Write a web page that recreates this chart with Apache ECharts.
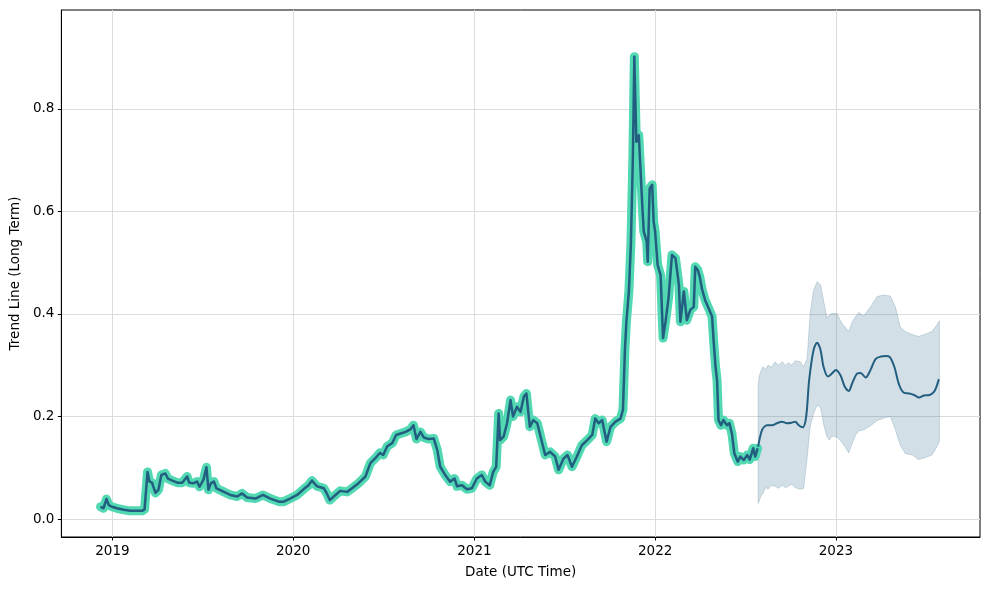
<!DOCTYPE html>
<html><head><meta charset="utf-8">
<script src="https://cdn.jsdelivr.net/npm/echarts@6/dist/echarts.min.js"></script>
<style>html,body{margin:0;padding:0;background:#fff}#c{width:989px;height:590px}</style>
</head><body><div id="c"></div>
<script>
const histDates = ['2018-12-08','2018-12-14','2018-12-20','2018-12-25','2018-12-31','2019-01-10','2019-01-24','2019-02-06','2019-03-02','2019-03-07','2019-03-13','2019-03-17','2019-03-22','2019-03-29','2019-04-04','2019-04-10','2019-04-18','2019-04-23','2019-05-02','2019-05-12','2019-05-22','2019-06-01','2019-06-05','2019-06-14','2019-06-21','2019-06-26','2019-07-04','2019-07-10','2019-07-14','2019-07-19','2019-07-25','2019-07-30','2019-08-10','2019-08-27','2019-09-10','2019-09-20','2019-09-30','2019-10-17','2019-11-01','2019-11-16','2019-12-03','2019-12-13','2019-12-26','2020-01-09','2020-01-22','2020-02-01','2020-02-08','2020-02-18','2020-03-03','2020-03-09','2020-03-15','2020-03-23','2020-04-05','2020-04-19','2020-04-29','2020-05-12','2020-05-26','2020-06-05','2020-06-18','2020-06-24','2020-07-01','2020-07-09','2020-07-19','2020-07-27','2020-08-05','2020-08-15','2020-08-25','2020-08-31','2020-09-06','2020-09-14','2020-09-21','2020-10-01','2020-10-11','2020-10-18','2020-10-24','2020-11-03','2020-11-13','2020-11-22','2020-11-27','2020-12-07','2020-12-17','2020-12-27','2021-01-06','2021-01-16','2021-01-23','2021-02-01','2021-02-08','2021-02-14','2021-02-19','2021-02-22','2021-03-01','2021-03-08','2021-03-15','2021-03-20','2021-03-28','2021-04-04','2021-04-11','2021-04-16','2021-04-23','2021-04-30','2021-05-08','2021-05-18','2021-05-24','2021-06-03','2021-06-13','2021-06-20','2021-06-30','2021-07-08','2021-07-17','2021-07-27','2021-08-06','2021-08-17','2021-08-27','2021-09-02','2021-09-09','2021-09-16','2021-09-25','2021-10-03','2021-10-13','2021-10-23','2021-10-28','2021-11-01','2021-11-04','2021-11-09','2021-11-13','2021-11-17','2021-11-20','2021-11-23','2021-11-24','2021-11-29','2021-12-02','2021-12-06','2021-12-09','2021-12-15','2021-12-17','2021-12-21','2021-12-26','2021-12-29','2022-01-01','2022-01-06','2022-01-12','2022-01-17','2022-01-22','2022-01-28','2022-02-04','2022-02-11','2022-02-18','2022-02-21','2022-02-28','2022-03-06','2022-03-13','2022-03-20','2022-03-23','2022-03-28','2022-04-01','2022-04-06','2022-04-12','2022-04-19','2022-04-26','2022-04-29','2022-05-03','2022-05-06','2022-05-09','2022-05-14','2022-05-19','2022-05-26','2022-05-31','2022-06-05','2022-06-10','2022-06-17','2022-06-22','2022-06-29','2022-07-06','2022-07-11','2022-07-18','2022-07-22','2022-07-27'];
const histValues = [0.024,0.021,0.039,0.027,0.024,0.021,0.018,0.016,0.016,0.019,0.092,0.073,0.071,0.051,0.057,0.086,0.089,0.079,0.075,0.071,0.071,0.083,0.071,0.070,0.073,0.063,0.077,0.101,0.057,0.070,0.073,0.060,0.055,0.047,0.044,0.050,0.042,0.040,0.047,0.040,0.034,0.034,0.040,0.047,0.058,0.066,0.075,0.064,0.060,0.050,0.037,0.044,0.055,0.053,0.060,0.070,0.083,0.109,0.122,0.129,0.125,0.142,0.148,0.164,0.167,0.170,0.175,0.183,0.156,0.170,0.159,0.156,0.157,0.135,0.102,0.086,0.073,0.079,0.064,0.066,0.058,0.060,0.079,0.086,0.073,0.066,0.092,0.102,0.206,0.154,0.161,0.187,0.232,0.200,0.219,0.209,0.239,0.245,0.180,0.193,0.187,0.148,0.125,0.131,0.122,0.096,0.118,0.125,0.102,0.122,0.144,0.154,0.164,0.196,0.187,0.193,0.151,0.180,0.190,0.196,0.213,0.330,0.385,0.444,0.535,0.704,0.902,0.899,0.736,0.749,0.691,0.613,0.561,0.541,0.502,0.645,0.652,0.580,0.561,0.496,0.476,0.353,0.385,0.431,0.515,0.509,0.457,0.385,0.444,0.388,0.408,0.414,0.492,0.486,0.473,0.447,0.427,0.411,0.395,0.349,0.297,0.271,0.193,0.183,0.193,0.183,0.187,0.167,0.128,0.112,0.122,0.115,0.125,0.116,0.138,0.122,0.138];

const fcDates = ['2022-07-28','2022-08-05','2022-08-15','2022-08-25','2022-09-04','2022-09-14','2022-09-24','2022-10-04','2022-10-11','2022-10-18','2022-10-26','2022-11-02','2022-11-08','2022-11-17','2022-11-24','2022-12-01','2022-12-07','2022-12-16','2022-12-24','2023-01-01','2023-01-10','2023-01-19','2023-01-27','2023-02-03','2023-02-13','2023-02-20','2023-03-02','2023-03-12','2023-03-22','2023-04-02','2023-04-12','2023-04-20','2023-04-29','2023-05-09','2023-05-19','2023-05-29','2023-06-08','2023-06-18','2023-06-28','2023-07-09','2023-07-18','2023-07-23','2023-07-28'];
const fcValues = [0.141,0.174,0.183,0.183,0.187,0.190,0.187,0.188,0.190,0.183,0.179,0.200,0.271,0.330,0.344,0.330,0.297,0.278,0.284,0.291,0.281,0.258,0.250,0.265,0.284,0.285,0.276,0.291,0.312,0.317,0.318,0.316,0.297,0.261,0.246,0.245,0.242,0.237,0.241,0.242,0.248,0.258,0.273];

const bandDates = ['2022-07-28','2022-07-30','2022-08-03','2022-08-07','2022-08-12','2022-08-17','2022-08-24','2022-08-31','2022-09-07','2022-09-15','2022-09-21','2022-09-27','2022-10-04','2022-10-11','2022-10-21','2022-10-28','2022-11-04','2022-11-10','2022-11-17','2022-11-24','2022-12-01','2022-12-07','2022-12-14','2022-12-19','2022-12-24','2023-01-03','2023-01-13','2023-01-20','2023-01-27','2023-02-03','2023-02-10','2023-02-16','2023-02-26','2023-03-12','2023-03-25','2023-04-08','2023-04-21','2023-05-01','2023-05-11','2023-05-21','2023-06-04','2023-06-17','2023-07-01','2023-07-14','2023-07-24','2023-07-29'];
const bandUpper = [0.258,0.278,0.290,0.297,0.292,0.300,0.296,0.307,0.300,0.307,0.299,0.305,0.300,0.309,0.307,0.297,0.314,0.401,0.447,0.463,0.457,0.427,0.392,0.398,0.401,0.401,0.382,0.374,0.366,0.385,0.395,0.403,0.396,0.414,0.434,0.437,0.435,0.414,0.375,0.366,0.360,0.356,0.361,0.366,0.379,0.387];
const bandLower = [0.031,0.035,0.046,0.050,0.062,0.058,0.066,0.064,0.060,0.066,0.061,0.064,0.068,0.061,0.058,0.060,0.120,0.180,0.206,0.222,0.218,0.185,0.160,0.154,0.162,0.160,0.150,0.140,0.129,0.148,0.164,0.172,0.174,0.182,0.192,0.197,0.200,0.174,0.144,0.128,0.125,0.116,0.120,0.125,0.141,0.151];

const yTicks = [0, 0.2, 0.4, 0.6, 0.8];
const xTickYears = [2019, 2020, 2021, 2022, 2023];

const FONT = 'DejaVu Sans';
const DARK = '#215e80';
const pair = (d, v) => d.map((x, i) => [Date.parse(x), v[i]]);
const bandData = bandDates.map((d, i) => [Date.parse(d), bandLower[i], bandUpper[i]]);
const xTicks = xTickYears.map(y => Date.UTC(y, 0, 1));

const chart = echarts.init(document.getElementById('c'), null, {renderer: 'canvas'});
chart.setOption({
  animation: false,
  backgroundColor: '#fff',
  grid: {left: 61, right: 9, top: 10, bottom: 53, show: true, borderColor: '#000', borderWidth: 1, backgroundColor: 'transparent'},
  xAxis: {
    type: 'value',
    min: Date.UTC(2018, 8, 20),
    max: Date.UTC(2023, 9, 19),
    name: 'Date (UTC Time)',
    nameLocation: 'middle',
    nameGap: 28,
    nameTextStyle: {fontFamily: FONT, fontSize: 13.5, color: '#000'},
    axisLine: {show: true, onZero: false, lineStyle: {color: '#000', width: 1}},
    axisTick: {show: true, length: 3.5, lineStyle: {color: '#000'}, customValues: xTicks},
    axisLabel: {margin: 7, fontFamily: FONT, fontSize: 13.5, color: '#000', customValues: xTicks,
      formatter: v => String(new Date(v).getUTCFullYear())},
    splitLine: {show: true, lineStyle: {color: '#dcdcdc', width: 1}}
  },
  yAxis: {
    type: 'value',
    min: -0.035,
    max: 0.993,
    name: 'Trend Line (Long Term)',
    nameLocation: 'middle',
    nameGap: 38,
    nameTextStyle: {fontFamily: FONT, fontSize: 13.5, color: '#000'},
    axisLine: {show: true, onZero: false, lineStyle: {color: '#000', width: 1}},
    axisTick: {show: true, length: 3.5, lineStyle: {color: '#000'}, customValues: yTicks},
    axisLabel: {margin: 7, fontFamily: FONT, fontSize: 13.5, color: '#000', customValues: yTicks,
      formatter: v => v.toFixed(1)},
    splitLine: {show: true, lineStyle: {color: '#dcdcdc', width: 1}}
  },
  series: [
    {
      type: 'custom', name: 'band', z: 1,
      data: bandData,
      encode: {x: 0, y: [1, 2]},
      renderItem: function (params, api) {
        if (params.dataIndex !== 0) return null;
        const top = [], bot = [];
        for (let i = 0; i < bandData.length; i++) {
          top.push(api.coord([bandData[i][0], bandData[i][2]]));
          bot.push(api.coord([bandData[i][0], bandData[i][1]]));
        }
        const pts = top.concat(bot.reverse());
        return {
          type: 'polygon',
          shape: {points: pts},
          style: {fill: 'rgba(33,94,128,0.2)', stroke: 'rgba(33,94,128,0.2)', lineWidth: 1}
        };
      }
    },
    {
      type: 'line', name: 'halo', symbol: 'none', z: 2,
      data: pair(histDates, histValues),
      lineStyle: {color: '#52d8b2', width: 9, cap: 'round', join: 'round'}
    },
    {
      type: 'line', name: 'hist', symbol: 'none', z: 3,
      data: pair(histDates, histValues),
      lineStyle: {color: DARK, width: 2.5, join: 'round'}
    },
    {
      type: 'line', name: 'forecast', symbol: 'none', z: 3, smooth: 0.3,
      data: pair(fcDates, fcValues),
      lineStyle: {color: DARK, width: 2}
    }
  ]
});
</script>
</body></html>
